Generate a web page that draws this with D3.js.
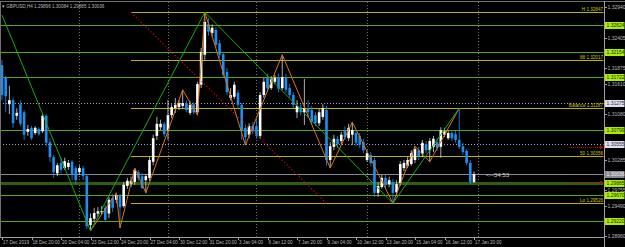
<!DOCTYPE html>
<html>
<head>
<meta charset="utf-8">
<script src="https://cdn.jsdelivr.net/npm/d3@7"></script>
<style>
  body { margin: 0; background: #000; }
  svg { display: block; }
  text { font-family: "Liberation Sans", Arial, sans-serif; }
</style>
</head>
<body>
<svg id="chart" width="625" height="247"></svg>
<script>
// GBPUSD H4, 17 Dec 2019 12:00 .. 17 Jan 2020 20:00 (129 bars)
const open = [1.3193,1.3171,1.3125,1.3132,1.3105,1.3125,1.3111,1.3077,1.3084,1.3075,
  1.3082,1.3078,1.3105,1.3059,1.3033,1.3005,1.3023,1.3014,1.3016,1.3025,
  1.3014,1.3007,1.3014,1.3000,1.2915,1.2926,1.2935,1.2938,1.2945,1.2935,
  1.2962,1.2959,1.2966,1.2948,1.2983,1.2986,1.2990,1.3007,1.3000,1.2993,
  1.2997,1.3025,1.3070,1.3085,1.3091,1.3080,1.3106,1.3118,1.3120,1.3122,
  1.3127,1.3110,1.3125,1.3111,1.3159,1.3211,1.3264,1.3249,1.3254,1.3231,
  1.3212,1.3181,1.3136,1.3138,1.3145,1.3124,1.3084,1.3072,1.3087,1.3087,
  1.3070,1.3141,1.3171,1.3153,1.3164,1.3172,1.3153,1.3171,1.3153,1.3141,
  1.3111,1.3120,1.3111,1.3118,1.3115,1.3106,1.3092,1.3103,1.3115,1.3028,
  1.3051,1.3065,1.3061,1.3080,1.3066,1.3072,1.3075,1.3070,1.3059,1.3028,
  1.3037,1.3028,1.2971,1.2981,1.2997,1.2986,1.2990,1.2972,1.2988,1.3014,
  1.3018,1.3021,1.3028,1.3045,1.3039,1.3056,1.3045,1.3051,1.3059,1.3051,
  1.3072,1.3066,1.3075,1.3073,1.3063,1.3052,1.3044,1.3023,1.29896];
const high = [1.3202,1.3174,1.3157,1.3136,1.3118,1.3132,1.3115,1.3089,1.3087,1.3087,
  1.3085,1.3110,1.3108,1.3066,1.3037,1.3023,1.3032,1.3032,1.3028,1.3028,
  1.3018,1.3019,1.3018,1.3004,1.2935,1.2945,1.2946,1.2948,1.2950,1.2964,
  1.2969,1.2971,1.2969,1.2990,1.2997,1.2999,1.3014,1.3011,1.3005,1.3004,
  1.3033,1.3072,1.3103,1.3098,1.3094,1.3132,1.3125,1.3136,1.3132,1.3150,
  1.3132,1.3131,1.3129,1.3164,1.3223,1.3285,1.3275,1.3264,1.3259,1.3237,
  1.3216,1.3188,1.3153,1.3164,1.3150,1.3127,1.3089,1.3092,1.3094,1.3098,
  1.3146,1.3171,1.3178,1.3174,1.3176,1.3178,1.3211,1.3178,1.3160,1.3146,
  1.3132,1.3125,1.3169,1.3132,1.3122,1.3111,1.3117,1.3125,1.3122,1.3059,
  1.3072,1.3070,1.3077,1.3087,1.3091,1.3094,1.3080,1.3075,1.3065,1.3045,
  1.3042,1.3032,1.2990,1.3002,1.3002,1.2999,1.2995,1.2993,1.3026,1.3028,
  1.3033,1.3045,1.3052,1.3051,1.3063,1.3061,1.3066,1.3070,1.3065,1.3085,
  1.3084,1.3080,1.3078,1.3080,1.3118,1.3058,1.3047,1.3028,1.30084];
const low = [1.3132,1.3111,1.3108,1.3084,1.3098,1.3087,1.3063,1.3070,1.3063,1.3072,
  1.3070,1.3075,1.3052,1.3025,1.2997,1.3000,1.3005,1.3011,1.3011,1.2993,
  1.2986,1.3002,1.2993,1.2908,1.2905,1.2920,1.2929,1.2933,1.2920,1.2927,
  1.2938,1.2953,1.2910,1.2945,1.2978,1.2981,1.2985,1.2992,1.2979,1.2971,
  1.2992,1.3019,1.3063,1.3080,1.3068,1.3063,1.3101,1.3110,1.3115,1.3118,
  1.3111,1.3106,1.3108,1.3106,1.3153,1.3202,1.3244,1.3244,1.3223,1.3205,
  1.3171,1.3141,1.3132,1.3134,1.3118,1.3063,1.3054,1.3066,1.3073,1.3065,
  1.3065,1.3136,1.3146,1.3150,1.3160,1.3146,1.3150,1.3145,1.3136,1.3118,
  1.3101,1.3106,1.3089,1.3101,1.3089,1.3087,1.3087,1.3098,1.3018,1.3014,
  1.3045,1.3049,1.3056,1.3063,1.3061,1.3054,1.3052,1.3049,1.3040,1.3025,
  1.3018,1.2964,1.2964,1.2978,1.2979,1.2981,1.2953,1.2966,1.2983,1.3009,
  1.3014,1.3018,1.3023,1.3028,1.3033,1.3040,1.3025,1.3042,1.3044,1.3032,
  1.3068,1.3063,1.3061,1.3058,1.3047,1.3037,1.3019,1.2986,1.29885];
const close = [1.3141,1.3139,1.3132,1.3092,1.3110,1.3091,1.3072,1.3082,1.3066,1.3084,
  1.3073,1.3105,1.3058,1.3033,1.3007,1.3019,1.3011,1.3026,1.3023,1.3004,
  1.2993,1.3014,1.3000,1.2913,1.2927,1.2936,1.2939,1.2939,1.2924,1.2959,
  1.2945,1.2967,1.2946,1.2985,1.2992,1.2992,1.3011,1.2997,1.2979,1.3000,
  1.3028,1.3066,1.3091,1.3091,1.3073,1.3106,1.3120,1.3124,1.3127,1.3127,
  1.3115,1.3124,1.3111,1.3160,1.3216,1.3268,1.3251,1.3258,1.3228,1.3211,
  1.3176,1.3146,1.3141,1.3159,1.3124,1.3080,1.3068,1.3087,1.3078,1.3070,
  1.3141,1.3164,1.3153,1.3169,1.3171,1.3152,1.3172,1.3150,1.3141,1.3124,
  1.3122,1.3111,1.3118,1.3111,1.3094,1.3092,1.3111,1.3118,1.3028,1.3052,
  1.3065,1.3056,1.3072,1.3068,1.3084,1.3080,1.3058,1.3054,1.3045,1.3040,
  1.3023,1.2971,1.2983,1.2997,1.2985,1.2993,1.2971,1.2986,1.3021,1.3023,
  1.3028,1.3040,1.3047,1.3035,1.3058,1.3045,1.3061,1.3065,1.3049,1.3080,
  1.3078,1.3075,1.3066,1.3063,1.3051,1.3042,1.3023,1.2990,1.30036];

// time axis labels, one every 8 bars
const dateLabels = ["17 Dec 2019","18 Dec 20:00","20 Dec 04:00","23 Dec 12:00","24 Dec 20:00",
  "27 Dec 04:00","30 Dec 12:00","31 Dec 20:00","3 Jan 04:00","6 Jan 12:00","7 Jan 20:00",
  "9 Jan 04:00","10 Jan 12:00","13 Jan 20:00","15 Jan 04:00","16 Jan 12:00","17 Jan 20:00"];
const dateBars = [0,8,16,24,32,40,48,56,64,72,80,88,96,104,112,120,128];
// weekly separators (bar index of Monday 00:00)
const weekBars = [21,45,69,99,129];

const priceTicks = [1.32940,1.32405,1.31875,1.31610,1.31080,1.30285,1.29755,1.29490,1.28960];

// zigzags: [bar, price]
const zigzagMajor = [[0,1.3280],[24,1.2905],[55,1.3285],[106,1.2953],[124,1.3118]];
const zigzagMinor = [[24,1.2905],[31,1.2971],[32,1.2910],[36,1.3014],[39,1.2971],[49,1.3150],
  [53,1.3106],[55,1.3285],[66,1.3054],[76,1.3211],[89,1.3014],[95,1.3094],[106,1.2953],
  [112,1.3052],[116,1.3025],[124,1.3118]];

// fibo object
const fibAnchors = [[35,1.32847],[88,1.29526]];
const fibNames = ["H","88","Balance","50","Lo"];
const fibPrices = [1.32847,1.32017,1.31187,1.30356,1.29526];

// horizontal levels
const greenLevels = [1.32624,1.32154,1.31722,1.30799,1.29670,1.29220];
const dottedLevels = [1.31275,1.30555];
const arrowLevels = [1.30507,1.29896];
const bidPrice = 1.30036;
const dayLow = 1.29885;
const title = "GBPUSD,H4  1.29896 1.30084 1.29885 1.30036";
const timer = "<--34:53";

const svg = d3.select("#chart");
const plotRight = 603.5, plotBottom = 237;

const x = d3.scaleLinear().domain([0, 128]).range([2, 474]);
const y = d3.scaleLinear().domain([1.28960, 1.32940]).range([236, 7]);
const py = p => Math.round(y(p)) + 0.5;

svg.append("rect").attr("width", 625).attr("height", 247).attr("fill", "#000");

svg.append("defs").append("clipPath").attr("id", "plot")
  .append("rect").attr("x", 0).attr("y", 1).attr("width", plotRight).attr("height", plotBottom - 1);

const plot = svg.append("g").attr("clip-path", "url(#plot)");

// week separators
plot.selectAll(".sep").data(weekBars).join("line")
  .attr("x1", d => Math.round(x(d)) + 0.5).attr("x2", d => Math.round(x(d)) + 0.5)
  .attr("y1", 2).attr("y2", plotBottom)
  .attr("stroke", "#6e6e6e").attr("stroke-dasharray", "1,2");

// horizontal levels
function hline(p, color, opts = {}) {
  plot.append("line")
    .attr("x1", opts.x1 ?? 0).attr("x2", plotRight)
    .attr("y1", py(p)).attr("y2", py(p))
    .attr("stroke", color).attr("stroke-width", opts.w ?? 1)
    .attr("stroke-dasharray", opts.dash ?? null)
    .attr("shape-rendering", "crispEdges");
}
greenLevels.forEach(p => hline(p, "#5aa80a"));
dottedLevels.forEach(p => hline(p, "#a8a8b8", {dash: "1,2"}));
hline(dayLow, "#2f5e0c", {w: 3});
hline(bidPrice, "#8a8a96");

// fibo levels
const fibX = x(fibAnchors[0][0]);
fibPrices.forEach(p => hline(p, "#b8b400", {x1: fibX}));
plot.selectAll(".fibtxt").data(fibPrices).join("text")
  .attr("x", plotRight - 0.5).attr("y", d => py(d) - 1.5)
  .attr("text-anchor", "end").attr("font-size", 4.6).attr("fill", "#c8c400")
  .text((d, i) => fibNames[i] + " " + d.toFixed(5));

// candles
const bars = d3.range(open.length);
const bull = i => close[i] >= open[i];
const blue = "#1e8ef0";
plot.selectAll(".wick").data(bars).join("line")
  .attr("x1", i => x(i)).attr("x2", i => x(i))
  .attr("y1", i => y(high[i])).attr("y2", i => y(low[i]))
  .attr("stroke", i => bull(i) ? "#d8d8d8" : blue).attr("stroke-width", 0.8);
plot.selectAll(".body").data(bars).join("rect")
  .attr("x", i => x(i) - 1.3).attr("width", 2.6)
  .attr("y", i => y(Math.max(open[i], close[i])))
  .attr("height", i => Math.max(0.8, Math.abs(y(open[i]) - y(close[i]))))
  .attr("fill", i => bull(i) ? "#ffffff" : blue);

// fibo trend line
plot.append("line")
  .attr("x1", x(fibAnchors[0][0])).attr("y1", y(fibAnchors[0][1]))
  .attr("x2", x(fibAnchors[1][0])).attr("y2", y(fibAnchors[1][1]))
  .attr("stroke", "#e00000").attr("stroke-width", 1.2).attr("stroke-dasharray", "1.2,2.2");

// zigzags
const zz = d3.line().x(d => x(d[0])).y(d => y(d[1]));
plot.append("path").attr("d", zz(zigzagMinor)).attr("fill", "none")
  .attr("stroke", "#d8741c").attr("stroke-width", 1);
plot.append("path").attr("d", zz(zigzagMajor)).attr("fill", "none")
  .attr("stroke", "#18a818").attr("stroke-width", 1);

// red price arrows near axis
arrowLevels.forEach(p => {
  plot.append("line").attr("x1", 569).attr("x2", 600)
    .attr("y1", py(p)).attr("y2", py(p))
    .attr("stroke", "#d00000").attr("stroke-dasharray", "1,1");
  plot.append("path")
    .attr("d", `M600,${py(p) - 2}L603,${py(p)}L600,${py(p) + 2}Z`)
    .attr("fill", "#d00000");
});

// timer text
svg.append("text").attr("x", x(128) + 12).attr("y", y(bidPrice) + 2.5)
  .attr("font-size", 6.2).attr("fill", "#d0d0d0").text(timer);

// title
svg.append("text").attr("x", 2).attr("y", 7.5)
  .attr("font-size", 4.6).attr("fill", "#b8b8b8").text("\u25BE " + title);

// frame
svg.append("line").attr("x1", 0).attr("x2", 625).attr("y1", 1.5).attr("y2", 1.5)
  .attr("stroke", "#707070");
svg.append("line").attr("x1", 0.5).attr("x2", 0.5).attr("y1", 1).attr("y2", plotBottom)
  .attr("stroke", "#707070");
svg.append("line").attr("x1", 0).attr("x2", 605).attr("y1", plotBottom + 0.5).attr("y2", plotBottom + 0.5)
  .attr("stroke", "#a0a0a0");
svg.append("line").attr("x1", 604.5).attr("x2", 604.5).attr("y1", 1).attr("y2", 247)
  .attr("stroke", "#a0a0a0");

// price axis
const yAxis = svg.append("g");
priceTicks.forEach(p => {
  yAxis.append("line").attr("x1", 604).attr("x2", 607).attr("y1", py(p)).attr("y2", py(p))
    .attr("stroke", "#a0a0a0");
  yAxis.append("text").attr("x", 607.5).attr("y", py(p) + 1.8)
    .attr("font-size", 5).attr("fill", "#b8b8b8").text(p.toFixed(5));
});

function priceBox(p, bg, fg) {
  yAxis.append("rect").attr("x", 605).attr("y", py(p) - 3.5).attr("width", 19.5).attr("height", 7)
    .attr("fill", bg);
  yAxis.append("text").attr("x", 606.5).attr("y", py(p) + 1.9)
    .attr("font-size", 5).attr("fill", fg).text(p.toFixed(5));
}
greenLevels.forEach(p => priceBox(p, "#a8f000", "#202020"));
dottedLevels.forEach(p => priceBox(p, "#e2dcf0", "#303030"));
priceBox(bidPrice, "#8a8a96", "#f0f0f0");
priceBox(dayLow, "#a8f000", "#202020");

// time axis
const xAxis = svg.append("g");
dateBars.forEach((b, i) => {
  xAxis.append("line").attr("x1", Math.round(x(b)) + 0.5).attr("x2", Math.round(x(b)) + 0.5)
    .attr("y1", plotBottom).attr("y2", plotBottom + 3).attr("stroke", "#a0a0a0");
  xAxis.append("text").attr("x", x(b) + 1).attr("y", 243.5)
    .attr("font-size", 4.6).attr("fill", "#b8b8b8").text(dateLabels[i]);
});
</script>
</body>
</html>
